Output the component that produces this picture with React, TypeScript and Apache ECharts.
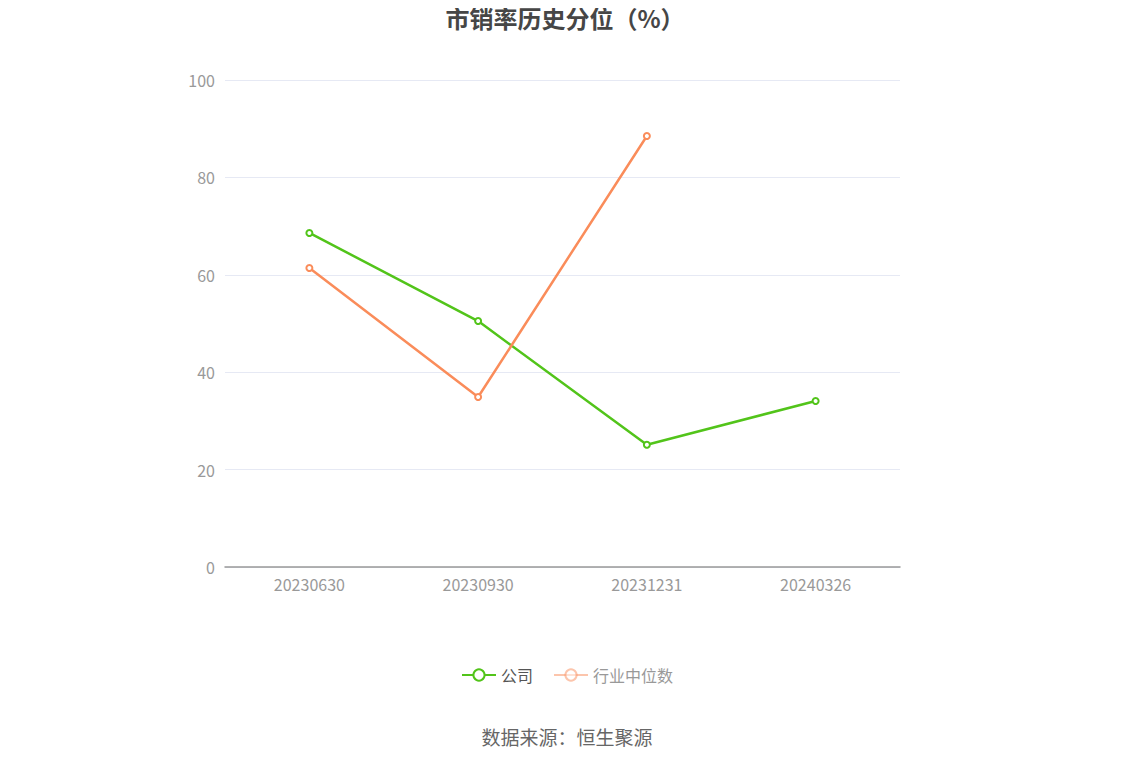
import { useEffect, useRef } from 'react'
import * as echarts from 'echarts'

const DATES = ['20230630', '20230930', '20231231', '20240326']
const COMPANY = [68.6, 50.5, 25.1, 34.1]
const INDUSTRY = [61.4, 34.9, 88.5, null]
const Y_TICKS = { min: 0, max: 100, interval: 20 }

const FONT = '"Noto Sans CJK SC", "Noto Sans", sans-serif'

export default function App() {
  const ref = useRef<HTMLDivElement>(null)

  useEffect(() => {
    if (!ref.current) return
    const chart = echarts.init(ref.current, undefined, { renderer: 'svg' })

    chart.setOption({
      animation: false,
      backgroundColor: '#fff',
      textStyle: { fontFamily: FONT },
      title: {
        text: '市销率历史分位（%）',
        left: 560,
        textAlign: 'center',
        top: 0,
        textStyle: { fontSize: 24, fontWeight: 'bold', color: '#464646', fontFamily: FONT },
      },
      grid: { left: 225, right: 234, top: 80, bottom: 199 },
      legend: {
        bottom: 78,
        left: 'center',
        itemWidth: 34,
        itemHeight: 14,
        itemGap: 20,
        textStyle: { fontSize: 16, color: '#555', fontFamily: FONT },
        data: [
          { name: '公司' },
          {
            name: '行业中位数',
            textStyle: { color: '#999' },
            itemStyle: { opacity: 0.5 },
            lineStyle: { opacity: 0.5 },
          },
        ],
      },
      graphic: [
        {
          type: 'text',
          left: 'center',
          top: 727,
          style: { text: '数据来源：恒生聚源', fontSize: 19, fill: '#666', fontFamily: FONT },
        },
      ],
      xAxis: {
        type: 'category',
        data: DATES,
        axisLine: { lineStyle: { color: '#999', width: 1.5 } },
        axisTick: { alignWithLabel: true, lineStyle: { color: '#999' } },
        axisLabel: { color: '#999', fontSize: 16, margin: 9 },
      },
      yAxis: {
        type: 'value',
        ...Y_TICKS,
        axisLine: { show: false },
        axisTick: { show: false },
        axisLabel: { color: '#999', fontSize: 16, margin: 10 },
        splitLine: { lineStyle: { color: '#e6e9f4' } },
      },
      series: [
        {
          name: '公司',
          type: 'line',
          data: COMPANY,
          color: '#52c41a',
          symbol: 'emptyCircle',
          symbolSize: 6,
          lineStyle: { width: 2.5 },
          itemStyle: { borderWidth: 2 },
        },
        {
          name: '行业中位数',
          type: 'line',
          data: INDUSTRY,
          color: '#fa8c5a',
          symbol: 'emptyCircle',
          symbolSize: 6,
          lineStyle: { width: 2.5 },
          itemStyle: { borderWidth: 2 },
        },
      ],
    })

    return () => chart.dispose()
  }, [])

  return <div ref={ref} style={{ width: 1134, height: 766, margin: -8 }} />
}
